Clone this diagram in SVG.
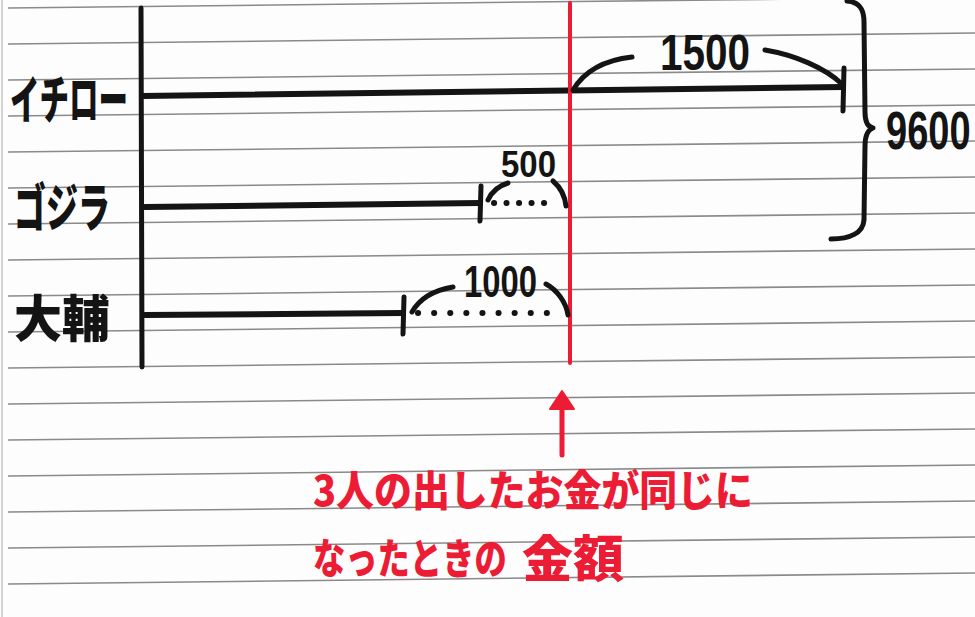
<svg xmlns="http://www.w3.org/2000/svg" width="975" height="617" viewBox="0 0 975 617">
<defs>
<style>
.rule{stroke:#8a8a8a;stroke-width:1.6;fill:none}
.ink{stroke:#141414;fill:none;stroke-linecap:round;stroke-linejoin:round}
.bar{stroke-width:6}
.arc{stroke-width:5}
.dot{stroke:#141414;stroke-width:6;stroke-linecap:round;fill:none}
.red{stroke:#ec1c34;fill:none;stroke-linecap:round}
.lbl{font-family:"Noto Sans CJK JP","Noto Sans",sans-serif;font-weight:900;fill:#141414}
.num{font-family:"Liberation Sans",sans-serif;font-weight:bold;fill:#141414}
.rtx{font-family:"Noto Sans CJK JP",sans-serif;font-weight:900;fill:#ec1c34}
</style>
</defs>
<rect width="975" height="617" fill="#fdfdfd"/>
<g id="paper">
<line class="rule" x1="2" y1="0" x2="2" y2="617" style="stroke:#c8c8c8"/>
<line class="rule" x1="8" y1="8" x2="975" y2="-3"/>
<line class="rule" x1="8" y1="44" x2="975" y2="33"/>
<line class="rule" x1="8" y1="80" x2="975" y2="69"/>
<line class="rule" x1="8" y1="116" x2="975" y2="105"/>
<line class="rule" x1="8" y1="152" x2="975" y2="141"/>
<line class="rule" x1="8" y1="188" x2="975" y2="177"/>
<line class="rule" x1="8" y1="224" x2="975" y2="213"/>
<line class="rule" x1="8" y1="260" x2="975" y2="249"/>
<line class="rule" x1="8" y1="296" x2="975" y2="285"/>
<line class="rule" x1="8" y1="332" x2="975" y2="321"/>
<line class="rule" x1="8" y1="368" x2="975" y2="357"/>
<line class="rule" x1="8" y1="404" x2="975" y2="393"/>
<line class="rule" x1="8" y1="440" x2="975" y2="429"/>
<line class="rule" x1="8" y1="476" x2="975" y2="465"/>
<line class="rule" x1="8" y1="512" x2="975" y2="501"/>
<line class="rule" x1="8" y1="548" x2="975" y2="537"/>
<line class="rule" x1="8" y1="584" x2="975" y2="573"/>
</g>
<g id="axis">
<line class="ink" x1="141" y1="8" x2="142" y2="367" style="stroke-width:5"/>
</g>
<g id="ichiro">
<text class="lbl" x="10" y="119" font-size="52" textLength="118" lengthAdjust="spacingAndGlyphs">イチロー</text>
<line class="ink bar" x1="142" y1="96" x2="843" y2="87"/>
<line class="ink arc" x1="844" y1="68" x2="843" y2="111"/>
</g>
<g id="godzilla">
<text class="lbl" x="14" y="227" font-size="52" textLength="96" lengthAdjust="spacingAndGlyphs">ゴジラ</text>
<line class="ink bar" x1="145" y1="207" x2="480" y2="203"/>
<line class="ink arc" x1="481" y1="186" x2="480" y2="221"/>
<line class="dot" x1="494" y1="203" x2="556" y2="203" stroke-dasharray="0.1 12.4"/>
</g>
<g id="daisuke">
<text class="lbl" x="14" y="337" font-size="50" textLength="96" lengthAdjust="spacingAndGlyphs">大輔</text>
<line class="ink bar" x1="145" y1="315" x2="403" y2="313"/>
<line class="ink arc" x1="404" y1="297" x2="403" y2="334"/>
<line class="dot" x1="418" y1="313" x2="562" y2="313" stroke-dasharray="0.1 16"/>
</g>
<g id="equal-line">
<line class="red" x1="570" y1="3" x2="570" y2="363" style="stroke-width:4"/>
</g>
<g id="total">
<path class="ink arc" d="M847,1 C860,2 864,10 864,22 L865,112 C865,122 868,127 873,128 C867,130 865,136 865,146 L864,220 C863,233 850,239 831,239"/>
<text class="num" font-size="38" transform="translate(886,149) scale(1,1.4)">9600</text>
</g>
<g id="labels">
<text class="num" x="660" y="70" font-size="50" textLength="90" lengthAdjust="spacingAndGlyphs">1500</text>
<text class="num" x="501" y="177" font-size="37" textLength="55" lengthAdjust="spacingAndGlyphs">500</text>
<text class="num" x="464" y="297" font-size="45" textLength="73" lengthAdjust="spacingAndGlyphs">1000</text>
</g>
<g id="connectors">
<path class="ink arc" d="M573,90 C585,70 605,60 632,57"/>
<path class="ink arc" d="M765,50 C795,55 825,68 842,84"/>
<path class="ink arc" d="M488,200 C492,191 498,186 508,183"/>
<path class="ink arc" d="M553,181 C560,187 565,196 566,206"/>
<path class="ink arc" d="M412,312 C420,298 435,290 453,287"/>
<path class="ink arc" d="M546,284 C557,290 566,302 568,315"/>
<line class="red" x1="562" y1="455" x2="562" y2="405" style="stroke-width:5"/>
<path d="M562,391 L574,409 L550,409 Z" fill="#ec1c34" stroke="#ec1c34" stroke-width="2" stroke-linejoin="round"/>
</g>
<g id="annotation">
<text class="rtx" x="313" y="506" font-size="42" textLength="440" lengthAdjust="spacingAndGlyphs">3人の出したお金が同じに</text>
<text class="rtx" font-size="34" transform="translate(313,574) scale(0.95,1.25)">なったときの</text>
<text class="rtx" x="522" y="577" font-size="50" textLength="102" lengthAdjust="spacingAndGlyphs">金額</text>
</g>
</svg>
